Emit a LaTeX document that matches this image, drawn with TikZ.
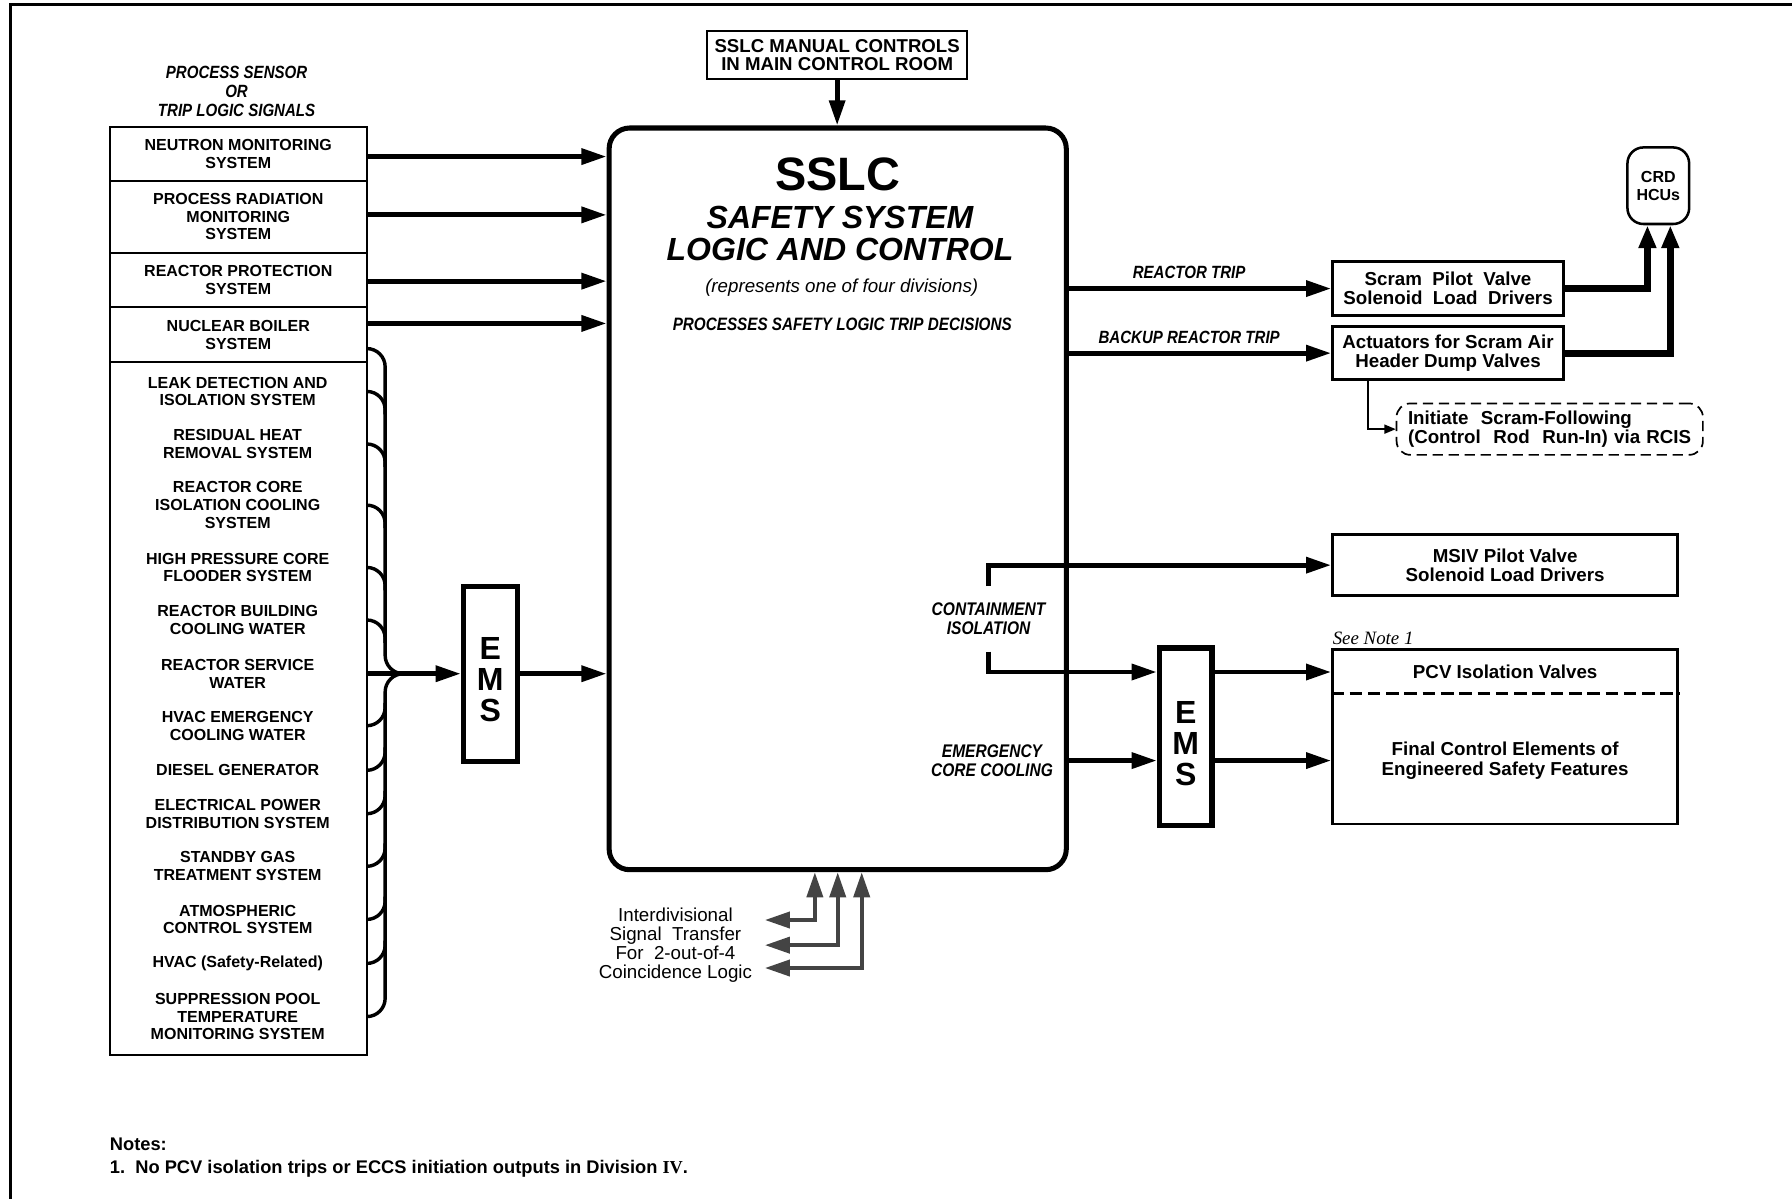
\documentclass[tikz,border=0pt]{standalone}
\usepackage{fontspec}
\setmainfont{Liberation Sans}
\newfontfamily\condsans[FakeStretch=0.85]{Liberation Sans}
\newfontfamily\serifface{Liberation Serif}
\usetikzlibrary{arrows.meta,positioning,calc}
\definecolor{GrisOscuro}{RGB}{68,68,68}
\tikzset{
  sysrow/.style={draw, line width=1.8pt, outer sep=0pt, minimum width=225pt, minimum height=#1,
    inner sep=0pt, align=center, font=\fontsize{14}{15.5}\selectfont\bfseries},
  sysrow/.default=48pt,
  sysitem/.style={align=center, inner sep=0pt, font=\fontsize{14}{15.5}\selectfont\bfseries},
  sigarr/.style={-{Triangle[length=22pt, width=13.5pt]}, line width=4.3pt},
  crdarr/.style={-{Triangle[length=20pt, width=14.5pt]}, line width=6pt},
  thinarr/.style={-{Triangle[length=10pt, width=8pt]}, line width=1.3pt},
  idarr/.style={{Triangle[length=22pt, width=14pt]}-{Triangle[length=22pt, width=14pt]},
    line width=3.5pt, GrisOscuro},
  busline/.style={line width=3pt, rounded corners=16pt},
  emsbox/.style={draw, line width=4.5pt, minimum width=47pt, minimum height=#1,
    inner sep=0pt, align=center, font=\fontsize{28}{27}\selectfont\bfseries},
  outbox/.style={draw, line width=2.4pt, minimum width=#1, inner sep=0pt,
    align=center, font=\fontsize{16.4}{17}\selectfont\bfseries},
  condlbl/.style={align=center, inner sep=0pt,
    font=\condsans\bfseries\itshape\fontsize{#1}{16.5}\selectfont},
  condlbl/.default=15.5,
  plaintxt/.style={align=center, inner sep=0pt, font=\fontsize{16.4}{16.7}\selectfont},
}
\begin{document}
\begin{tikzpicture}[x=1pt, y=-1pt]
\useasboundingbox (0,0) rectangle (1568,1049);
\draw[line width=2.5pt] (9,1049) -- (9,4) -- (1568,4);

% ---- input systems ----
\node[condlbl] (hdr) at (207,80) {PROCESS SENSOR\\OR\\TRIP LOGIC SIGNALS};
\node[sysrow=47pt] (nmon) at (208.5,134.5) {NEUTRON MONITORING\\SYSTEM};
\node[sysrow=63pt, below=0pt of nmon] (prm) {PROCESS RADIATION\\MONITORING\\SYSTEM};
\node[sysrow, below=0pt of prm] (rps) {REACTOR PROTECTION\\SYSTEM};
\node[sysrow, below=0pt of rps] (nbs) {NUCLEAR BOILER\\SYSTEM};
\node[sysrow=606pt, below=0pt of nbs] (big) {};
\foreach \i/\y/\t in {1/342.5/{LEAK DETECTION AND\\ISOLATION SYSTEM},
    2/388.5/{RESIDUAL HEAT\\REMOVAL SYSTEM},
    3/442/{REACTOR CORE\\ISOLATION COOLING\\SYSTEM},
    4/496.5/{HIGH PRESSURE CORE\\FLOODER SYSTEM},
    5/542.5/{REACTOR BUILDING\\COOLING WATER},
    6/589.5/{REACTOR SERVICE\\WATER},
    7/635/{HVAC EMERGENCY\\COOLING WATER},
    8/674/{DIESEL GENERATOR},
    9/712/{ELECTRICAL POWER\\DISTRIBUTION SYSTEM},
    10/758/{STANDBY GAS\\TREATMENT SYSTEM},
    11/804.5/{ATMOSPHERIC\\CONTROL SYSTEM},
    12/843/{HVAC (Safety-Related)},
    13/889.5/{SUPPRESSION POOL\\TEMPERATURE\\MONITORING SYSTEM}}
  \node[sysitem] (it\i) at (208,\y) {\t};

% ---- SSLC ----
\node[draw, line width=4.4pt, rounded corners=18pt, minimum width=400pt,
  minimum height=649pt] (sslc) at (733,436.5) {};
\node[inner sep=0pt, font=\fontsize{41}{41}\selectfont\bfseries] (ttl) at (733,153) {SSLC};
\node[align=center, inner sep=0pt, font=\fontsize{28}{28}\selectfont\bfseries\itshape]
  (ttl2) at (735,204) {SAFETY SYSTEM\\LOGIC AND CONTROL};
\node[inner sep=0pt, font=\fontsize{16.4}{17}\selectfont\itshape] (div) at (736.5,251.5) {(represents one of four divisions)};
\node[condlbl=15.7] (proc) at (737,284) {PROCESSES SAFETY LOGIC TRIP DECISIONS};

\node[outbox=227pt, line width=1.8pt, minimum height=42pt,
  font=\fontsize{16.3}{16}\selectfont\bfseries] (man) at (732.5,48) {SSLC MANUAL CONTROLS\\IN MAIN CONTROL ROOM};
\draw[sigarr] (man.south) -- (man.south |- sslc.north);

\foreach \r/\s in {nmon/-2.5, prm/1.5, rps/-1, nbs/10} {
  \coordinate (o\r) at ([yshift=\s pt]\r.east);
  \draw[sigarr] (o\r) -- (o\r -| sslc.west);
}

% ---- EMS bus ----
\node[emsbox=153pt] (ems1) at (429,589.5) {\rule{0pt}{30pt}E\\M\\S};
\path (big.east |- it6) ++(16,0) coordinate (bj);
\draw[busline] ([yshift=-12pt]nbs.east) -| (bj) -- ++(16,0);
\draw[busline] (big.east |- it13) -| (bj) -- ++(16,0);
\foreach \i in {1,...,5}
  \draw[busline] (big.east |- it\i) -- ++(16,0) -- ++(0,20);
\foreach \i in {7,...,12}
  \draw[busline] (big.east |- it\i) -- ++(16,0) -- ++(0,-20);
\draw[sigarr] (big.east |- ems1.west) -- (ems1.west);
\draw[sigarr] (ems1.east) -- (ems1.east -| sslc.west);

% ---- reactor trip ----
\node[condlbl] (rtl) at (1040.5,238) {REACTOR TRIP};
\node[condlbl] (brl) at (1040.5,295) {BACKUP REACTOR TRIP};
\node[outbox=202pt, minimum height=47pt] (scram) at (1267,252.5) {Scram~~Pilot~~Valve\\Solenoid~~Load~~Drivers};
\node[outbox=202pt, minimum height=46pt] (actu) at (1267,309) {Actuators for Scram Air\\Header Dump Valves};
\node[outbox=54pt, minimum height=67pt, rounded corners=14pt, line width=2.2pt,
  font=\fontsize{14}{16}\selectfont\bfseries] (crd) at (1451,162.5) {CRD\\HCUs};
\draw[sigarr] (sslc.east |- scram) -- (scram.west);
\draw[sigarr] (sslc.east |- actu) -- (actu.west);
\draw[crdarr] (scram.east) -| ([xshift=-9.5pt]crd.south);
\draw[crdarr] (actu.east) -| ([xshift=10.5pt]crd.south);
\node[outbox=268pt, minimum height=45pt, line width=1.5pt, dash pattern=on 9pt off 5pt,
  rounded corners=12pt, text width=256pt, align=left, xshift=0pt] (rcis) at (1356,375.5)
  {\hspace*{4pt}Initiate~~Scram-Following\\\hspace*{4pt}(Control~~Rod~~Run-In) via RCIS};
\draw[thinarr] ([xshift=-70pt]actu.south) |- (rcis.west);

% ---- containment isolation / ECCS ----
\node[outbox=302pt, minimum height=53pt] (msiv) at (1317,494.5) {MSIV Pilot Valve\\Solenoid Load Drivers};
\node[condlbl=16, minimum height=57pt] (cil) at (865,541.5) {CONTAINMENT\\ISOLATION};
\node[condlbl=16] (ecl) at (868,665.5) {EMERGENCY\\CORE COOLING};
\node[emsbox=155pt, minimum width=46pt] (ems2) at (1037.5,644.5) {\rule{0pt}{32pt}E\\M\\S};
\node[outbox=302pt, minimum height=153pt] (pcv) at (1317,644.5) {};
\node[plaintxt, font=\fontsize{16.4}{17}\selectfont\bfseries] (pcvt) at (1317,588) {PCV Isolation Valves};
\node[plaintxt, font=\fontsize{16.4}{17}\selectfont\bfseries] (fcet) at (1317,665.5) {Final Control Elements of\\Engineered Safety Features};
\draw[line width=2.5pt, dash pattern=on 11pt off 5pt] ([yshift=-40pt]pcv.north west) -- ([yshift=-40pt]pcv.north east);
\node[anchor=base west, inner sep=0pt, font=\fontsize{16.5}{18}\selectfont\serifface\itshape] (seen) at (1166,564) {See Note 1};
\draw[sigarr] (cil.north) |- (msiv.west);
\draw[sigarr] (cil.south) |- (ems2.west |- pcvt);
\draw[sigarr] (sslc.east |- fcet) -- (ems2.west |- fcet);
\draw[sigarr] (ems2.east |- pcvt) -- (pcv.west |- pcvt);
\draw[sigarr] (ems2.east |- fcet) -- (pcv.west |- fcet);

% ---- interdivisional transfer ----
\node[plaintxt] (idst) at (591,827) {Interdivisional\\Signal~~Transfer\\For~~2-out-of-4\\Coincidence Logic};
\draw[idarr] ([xshift=11pt, yshift=22pt]idst.east) -| ([xshift=-20pt]sslc.south);
\draw[idarr] ([xshift=11pt]idst.east) -| (sslc.south);
\draw[idarr] ([xshift=11pt, yshift=-20pt]idst.east) -| ([xshift=21pt]sslc.south);

% ---- notes ----
\node[anchor=base west, inner sep=0pt, font=\fontsize{16}{18}\selectfont\bfseries] (nthd) at (96,1007) {Notes:};
\node[anchor=base west, inner sep=0pt, font=\fontsize{16}{18}\selectfont\bfseries] (nt1) at (96,1027)
  {1.~~No PCV isolation trips or ECCS initiation outputs in Division {\serifface IV}.};
\end{tikzpicture}
\end{document}
